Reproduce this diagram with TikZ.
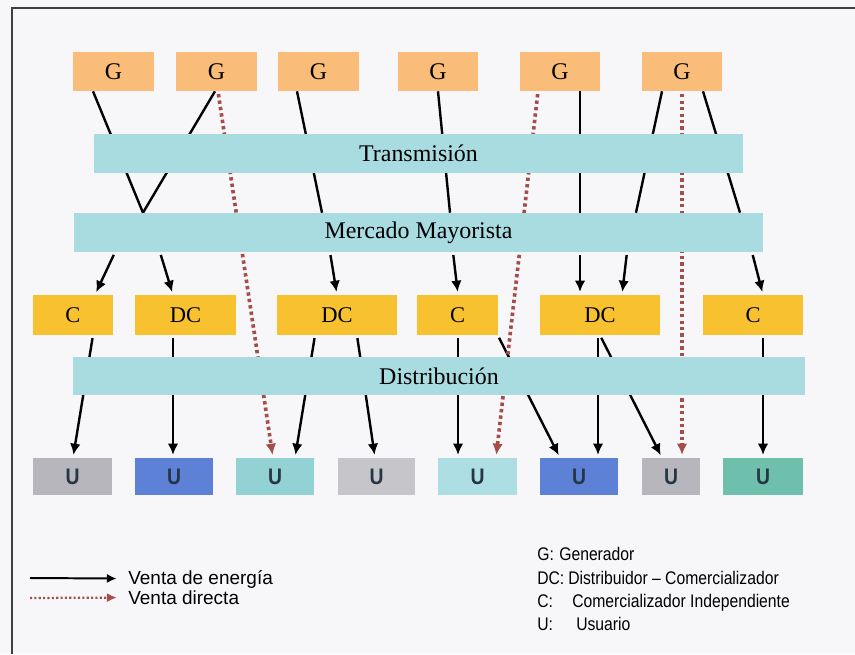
\documentclass[tikz,border=0pt]{standalone}
\usepackage{fontspec}
\setmainfont{Liberation Serif}
\newfontfamily\legfont{Liberation Sans}
\newfontfamily\keyfont[FakeStretch=0.86]{Liberation Sans}
\usetikzlibrary{arrows.meta,backgrounds,calc}
\definecolor{fondo}{HTML}{F7F7F9}
\definecolor{gen}{HTML}{F9BD79}
\definecolor{com}{HTML}{F7C130}
\definecolor{barra}{HTML}{A9DCE0}
\definecolor{directa}{HTML}{A44E4A}
\definecolor{ulabel}{HTML}{263645}
\definecolor{ugris}{HTML}{B7B6BC}
\definecolor{ugrisc}{HTML}{C6C5C9}
\definecolor{uazul}{HTML}{5C81D6}
\definecolor{uturq}{HTML}{93D2D4}
\definecolor{ucian}{HTML}{ADDEE4}
\definecolor{uverde}{HTML}{6EBFAB}
\tikzset{
  genbox/.style={fill=gen,minimum width=2cm,minimum height=0.975cm,font=\fontsize{17}{19}\selectfont},
  combox/.style={fill=com,minimum height=1cm,font=\fontsize{16}{18}\selectfont},
  barbox/.style={fill=barra,minimum height=0.975cm,font=\fontsize{17}{19}\selectfont},
  userbox/.style={fill=#1,minimum height=0.925cm,text=ulabel,font=\keyfont\bfseries\fontsize{16}{18}\selectfont},
  legtext/.style={inner sep=0pt,anchor=base west,font=\legfont\fontsize{13.5}{15}\selectfont},
  keytext/.style={inner sep=0pt,anchor=base west,font=\keyfont\fontsize{13}{15}\selectfont},
  enlace/.style={line width=1.7pt},
  venta/.style={line width=1.7pt,shorten <=2pt,shorten >=2pt,-{Latex[length=8pt,width=7.5pt]}},
  directa/.style={draw=directa,line width=2.6pt,dash pattern=on 2.4pt off 2.2pt,shorten <=2pt,shorten >=2pt,-{Latex[length=8pt,width=7.5pt]}},
}
\begin{document}
\begin{tikzpicture}[x=0.025cm,y=-0.025cm]
\useasboundingbox (0,0) rectangle (855,654);
\begin{scope}[on background layer]
\fill[fondo] (0,0) rectangle (855,654);
\end{scope}
\draw[line width=1.6pt,black!75] (12,654) -- (12,8) -- (855,8);

\foreach \n/\x in {1/113.5,2/216.5,3/318.5,4/438,5/560,6/682}
  \node[genbox] (g\n) at (\x,71.5) {G};
\node[barbox,minimum width=16.225cm] (tra) at (418.5,153) {Transmisión};
\node[barbox,minimum width=17.225cm] (mer) at (418.5,232.5) {Mercado Mayorista};
\node[combox,minimum width=2cm] (c1) at (73,315) {C};
\node[combox,minimum width=2.525cm] (dc1) at (185.5,315) {DC};
\node[combox,minimum width=3cm] (dc2) at (337,315) {DC};
\node[combox,minimum width=2cm] (c2) at (457.5,315) {C};
\node[combox,minimum width=3cm] (dc3) at (600,315) {DC};
\node[combox,minimum width=2.5cm] (c3) at (753,315) {C};
\node[barbox,minimum width=18.3cm,minimum height=0.95cm] (dis) at (439,376) {Distribución};
\foreach \n/\x/\w/\col in {1/72.5/1.975/ugris,2/174/1.95/uazul,3/275/1.95/uturq,4/376.5/1.925/ugrisc,
    5/477.5/1.975/ucian,6/579/1.95/uazul,7/671/1.45/ugris,8/763/2/uverde}
  \node[userbox=\col,minimum width=\w cm] (u\n) at (\x,476.5) {U};

\begin{scope}[on background layer]
\draw[enlace] (g1.south -| 93,0) -- (mer.north -| 143,0);
\draw[enlace] (g2.south -| 215,0) -- (mer.north -| 143,0);
\draw[enlace] (g3.south -| 297,0) -- (mer.north -| 322,0);
\draw[enlace] (g4.south -| 438,0) -- (mer.north -| 450,0);
\draw[enlace] (g5.south -| 580,0) -- (mer.north -| 580,0);
\draw[enlace] (g6.south -| 662,0) -- (mer.north -| 636,0);
\draw[enlace] (g6.south -| 703,0) -- (mer.north -| 740,0);
\draw[venta] (c1.south -| 93,0) -- (u1.north -| 73,0);
\draw[venta] (dc1.south -| 173,0) -- (u2.north -| 173,0);
\draw[venta] (dc2.south -| 315,0) -- (u3.north -| 295,0);
\draw[venta] (dc2.south -| 357,0) -- (u4.north -| 375,0);
\draw[venta] (c2.south -| 458,0) -- (u5.north -| 458,0);
\draw[venta] (c2.south east) -- (u6.north -| 560,0);
\draw[venta] (dc3.south -| 598,0) -- (u6.north -| 598,0);
\draw[venta] (dc3.south) -- (u7.north -| 662,0);
\draw[venta] (c3.south -| 763,0) -- (u8.north -| 763,0);
\draw[directa] (g2.south -| 218,0) -- (u3.north -| 273,0);
\draw[directa] (g5.south -| 538,0) -- (u5.north -| 496,0);
\draw[directa] (g6.south) -- (u7.north -| 682,0);
\end{scope}
\draw[venta] (mer.south -| 115,0) -- (c1.north -| 95,0);
\draw[venta] (mer.south -| 160,0) -- (dc1.north -| 173,0);
\draw[venta] (mer.south -| 330,0) -- (dc2.north -| 337,0);
\draw[venta] (mer.south -| 453,0) -- (c2.north -| 458,0);
\draw[venta] (mer.south -| 580,0) -- (dc3.north -| 580,0);
\draw[venta] (mer.south -| 627,0) -- (dc3.north -| 622,0);
\draw[venta] (mer.south -| 752,0) -- (c3.north -| 763,0);

\node[legtext] (lventa) at (128,584) {Venta de energía};
\node[legtext] (ldirecta) at (128,604) {Venta directa};
\coordinate (lv) at (30,578);
\coordinate (ld) at (30,598);
\draw[venta,line width=1.4pt,shorten <=0pt,shorten >=8pt,-{Latex[length=7pt,width=6.5pt]}] (lv) -- (lventa);
\draw[directa,line width=1.6pt,dash pattern=on 1.5pt off 1.6pt,shorten <=0pt,shorten >=8pt,-{Latex[length=7pt,width=6.5pt]}] (ld) -- (ldirecta);
\node[keytext] (kg) at (537,560) {G:};
\node[keytext] (kgt) at (559,560) {Generador};
\node[keytext] (kdc) at (537,584) {DC:};
\node[keytext] (kdct) at (568,584) {Distribuidor – Comercializador};
\node[keytext] (kc) at (537,607) {C:};
\node[keytext] (kct) at (572,607) {Comercializador Independiente};
\node[keytext] (ku) at (537,630) {U:};
\node[keytext] (kut) at (576,630) {Usuario};
\end{tikzpicture}
\end{document}
